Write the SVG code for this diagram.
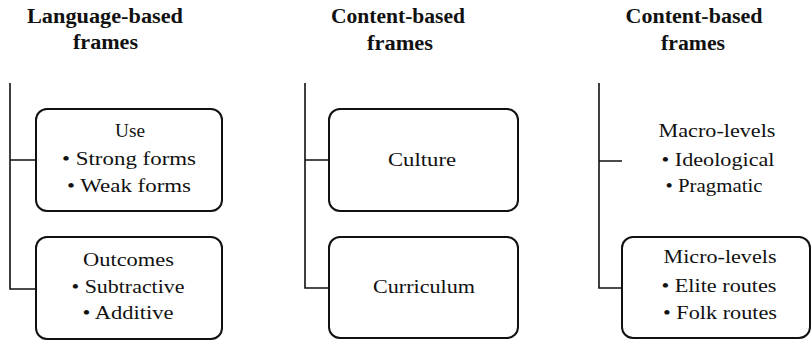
<svg xmlns="http://www.w3.org/2000/svg" width="812" height="341" viewBox="0 0 812 341">
<style>
  .bg{fill:#ffffff}
  .box{fill:none;stroke:#111;stroke-width:2}
  .ln{fill:none;stroke:#111;stroke-width:1.6}
  .t{fill:#111;text-anchor:middle;font-size:19px;font-family:"Liberation Serif","Times New Roman",serif}
  .title{font-weight:bold;font-size:20px}
</style>
<rect class="bg" x="0" y="0" width="812" height="341"/>
<g id="connectors">
  <path class="ln" d="M10,83 V289 H36 M10,160 H36"/>
  <path class="ln" d="M305,83 V288 H329 M305,160 H329"/>
  <path class="ln" d="M599,83 V288 H622 M599,161 H622"/>
</g>
<g id="title1">
  <text class="t title" x="105" y="23" textLength="156" lengthAdjust="spacingAndGlyphs">Language-based</text>
  <text class="t title" x="105.5" y="49" textLength="65" lengthAdjust="spacingAndGlyphs">frames</text>
</g>
<g id="title2">
  <text class="t title" x="398" y="23" textLength="134" lengthAdjust="spacingAndGlyphs">Content-based</text>
  <text class="t title" x="400" y="50" textLength="66" lengthAdjust="spacingAndGlyphs">frames</text>
</g>
<g id="title3">
  <text class="t title" x="694" y="23" textLength="137" lengthAdjust="spacingAndGlyphs">Content-based</text>
  <text class="t title" x="693" y="50" textLength="64" lengthAdjust="spacingAndGlyphs">frames</text>
</g>
<g id="use">
  <rect class="box" x="36" y="109" width="186" height="102" rx="11"/>
  <text class="t" x="130" y="137" textLength="30" lengthAdjust="spacingAndGlyphs">Use</text>
  <text class="t" x="129" y="165" textLength="134" lengthAdjust="spacingAndGlyphs">• Strong forms</text>
  <text class="t" x="129" y="192" textLength="124" lengthAdjust="spacingAndGlyphs">• Weak forms</text>
</g>
<g id="outcomes">
  <rect class="box" x="36" y="237" width="186" height="102" rx="11"/>
  <text class="t" x="128.5" y="266" textLength="91" lengthAdjust="spacingAndGlyphs">Outcomes</text>
  <text class="t" x="128" y="293" textLength="113" lengthAdjust="spacingAndGlyphs">• Subtractive</text>
  <text class="t" x="128" y="319" textLength="91" lengthAdjust="spacingAndGlyphs">• Additive</text>
</g>
<g id="culture">
  <rect class="box" x="329" y="109" width="189" height="102" rx="11"/>
  <text class="t" x="422" y="166" textLength="68" lengthAdjust="spacingAndGlyphs">Culture</text>
</g>
<g id="curriculum">
  <rect class="box" x="329" y="237" width="189" height="101" rx="11"/>
  <text class="t" x="424" y="293" textLength="102" lengthAdjust="spacingAndGlyphs">Curriculum</text>
</g>
<g id="macro">
  <text class="t" x="717" y="137" textLength="117" lengthAdjust="spacingAndGlyphs">Macro-levels</text>
  <text class="t" x="718" y="166" textLength="113" lengthAdjust="spacingAndGlyphs">• Ideological</text>
  <text class="t" x="714" y="192" textLength="97" lengthAdjust="spacingAndGlyphs">• Pragmatic</text>
</g>
<g id="micro">
  <rect class="box" x="622" y="237" width="188" height="101" rx="11"/>
  <text class="t" x="720" y="263" textLength="113" lengthAdjust="spacingAndGlyphs">Micro-levels</text>
  <text class="t" x="719" y="292" textLength="115" lengthAdjust="spacingAndGlyphs">• Elite routes</text>
  <text class="t" x="720" y="319" textLength="114" lengthAdjust="spacingAndGlyphs">• Folk routes</text>
</g>
</svg>
